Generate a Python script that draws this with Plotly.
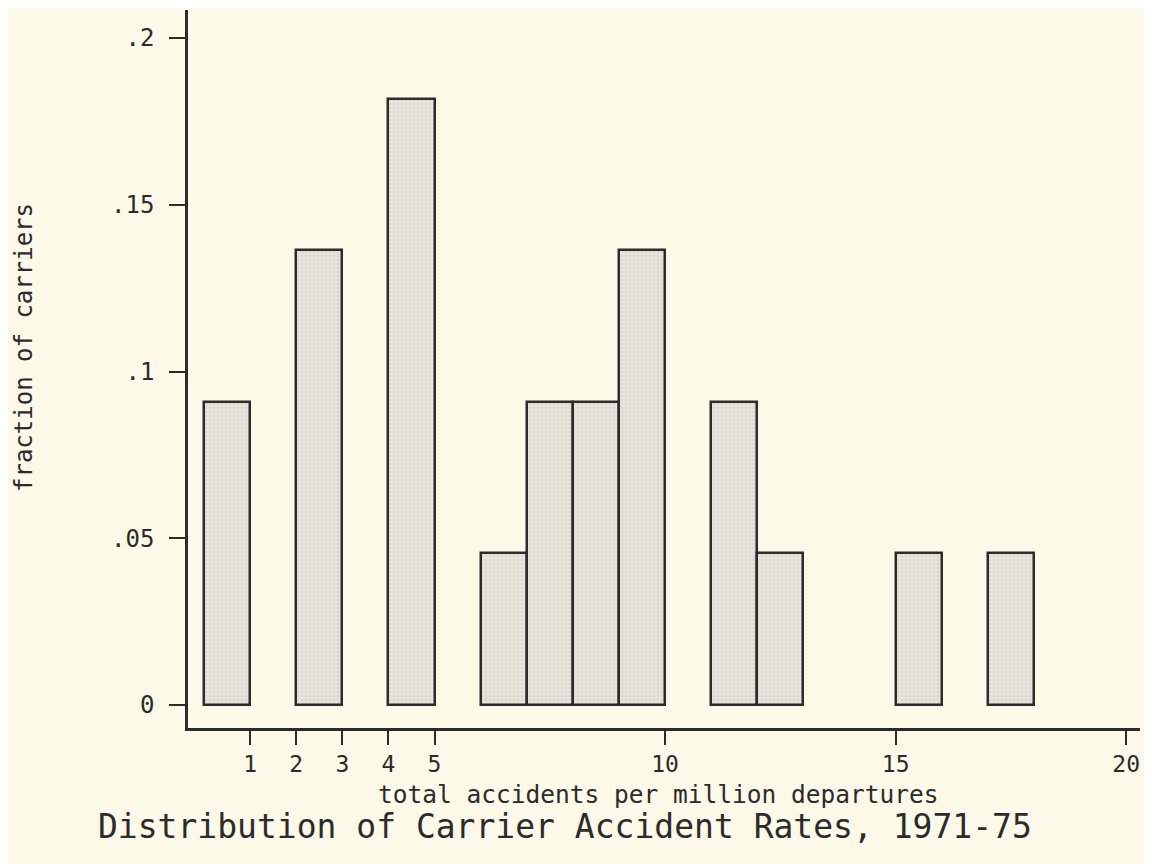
import plotly.graph_objects as go

# Histogram bins (left edge of each bar, width 1) and fraction of carriers
bin_left = [0, 2, 4, 6, 7, 8, 9, 11, 12, 15, 17]
fraction = [0.0909, 0.1364, 0.1818, 0.0455, 0.0909, 0.0909, 0.1364, 0.0909, 0.0455, 0.0455, 0.0455]
bin_width = 1.0

x_ticks = [1, 2, 3, 4, 5, 10, 15, 20]
y_ticks = [0, 0.05, 0.1, 0.15, 0.2]
y_tick_text = ["0", ".05", ".1", ".15", ".2"]

x_title = "total accidents per million departures"
y_title = "fraction of carriers"
main_title = "Distribution of Carrier Accident Rates, 1971-75"

paper = "#fcf9e8"
ink = "#2b2b2b"
font_family = "DejaVu Sans Mono"

# page has an 8px body margin, so the figure is sized to fit the window
OFF = 8
W, H = 1152 - OFF, 864 - OFF
L, R, T, B = 188 - OFF, 12, 10 - OFF, 864 - 728
PW, PH = W - L - R, H - T - B


def px_x(sx):
    return (sx - OFF - L) / PW


def px_y(sy):
    return (H - B - (sy - OFF)) / PH


centers = [b + bin_width / 2 for b in bin_left]

fig = go.Figure()
fig.add_trace(go.Bar(
    x=centers,
    y=fraction,
    width=[bin_width] * len(centers),
    marker=dict(
        color="#e4e2d8",
        line=dict(color=ink, width=2.5),
        pattern=dict(shape=".", fgcolor="#c9c7bd", bgcolor="#e6e4da", size=4, solidity=0.25),
    ),
    hoverinfo="x+y",
))

fig.update_layout(
    width=W,
    height=H,
    paper_bgcolor=paper,
    plot_bgcolor=paper,
    margin=dict(l=L, r=R, t=T, b=B, autoexpand=False),
    showlegend=False,
    bargap=0,
    font=dict(family=font_family, color=ink, size=23),
    xaxis=dict(
        range=[-0.347, 20.30],
        automargin=False,
        tickmode="array",
        tickvals=x_ticks,
        ticktext=[str(v) for v in x_ticks],
        ticks="outside",
        ticklen=14,
        tickwidth=2,
        tickcolor=ink,
        showline=True,
        linecolor=ink,
        linewidth=2.5,
        showgrid=False,
        zeroline=False,
        tickfont=dict(family=font_family, size=23, color=ink),
    ),
    yaxis=dict(
        range=[-0.0069, 0.2084],
        automargin=False,
        tickmode="array",
        tickvals=y_ticks,
        ticktext=y_tick_text,
        ticks="outside",
        ticklen=16,
        tickwidth=2,
        tickcolor=ink,
        showline=True,
        linecolor=ink,
        linewidth=2.5,
        showgrid=False,
        zeroline=False,
        ticklabelstandoff=10,
        tickfont=dict(family=font_family, size=24, color=ink),
    ),
    annotations=[
        dict(
            text=x_title, xref="paper", yref="paper",
            x=px_x(658), y=px_y(794),
            xanchor="center", yanchor="middle", showarrow=False,
            font=dict(family=font_family, size=24.5, color=ink),
        ),
        dict(
            text=y_title, xref="paper", yref="paper",
            x=px_x(24), y=px_y(348),
            xanchor="center", yanchor="middle", showarrow=False, textangle=-90,
            font=dict(family=font_family, size=24, color=ink),
        ),
        dict(
            text=main_title, xref="paper", yref="paper",
            x=px_x(565), y=px_y(827),
            xanchor="center", yanchor="middle", showarrow=False,
            font=dict(family=font_family, size=33, color=ink),
        ),
    ],
)

fig.write_html("out.html")
